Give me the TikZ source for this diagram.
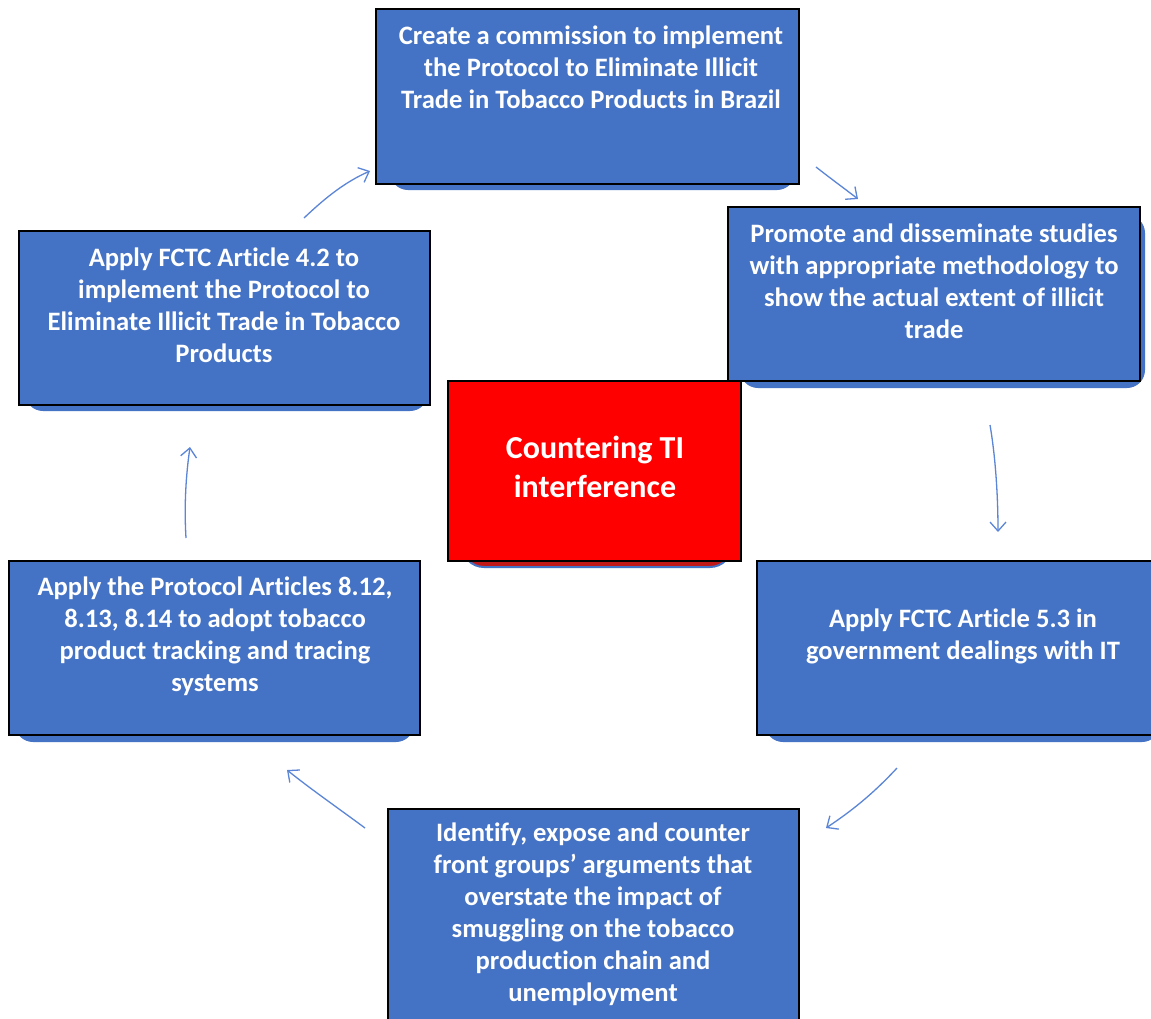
\documentclass[tikz,border=0pt]{standalone}
\usepackage{fontspec}
\setmainfont[Ligatures={NoCommon}]{Carlito}
\usetikzlibrary{arrows.meta}
\definecolor{boxblue}{HTML}{4472C4}
\definecolor{arrowblue}{HTML}{5B85D6}
\definecolor{shadowred}{HTML}{C01818}
\tikzset{
  boxrect/.style={fill=boxblue, draw=black, line width=1.3pt},
  redrect/.style={fill=red, draw=black, line width=1.3pt},
  shadowbox/.style={fill=boxblue, draw=none, rounded corners=18pt},
  shadowredbox/.style={fill=shadowred, draw=boxblue, line width=2pt, rounded corners=22pt},
  boxtext/.style={text=white, font=\bfseries\fontsize{26.6}{32}\selectfont, align=center, inner sep=0pt},
  bigtext/.style={text=white, font=\bfseries\fontsize{32}{39}\selectfont, align=center, inner sep=0pt},
  cyclearrow/.style={draw=arrowblue, line width=1.3pt, -{Straight Barb[length=9pt,width=16pt]}}
}
\begin{document}
\begin{tikzpicture}[x=1pt,y=-1pt]
\useasboundingbox (0,0) rectangle (1151,1018);
\clip (0,0) rectangle (1151,1018);
\fill[white] (0,0) rectangle (1151,1018);

% shadows
\path[shadowbox] (390,20) rectangle (795,190);
\path[shadowbox] (740,215) rectangle (1145,388);
\path[shadowbox] (25,240) rectangle (428,411);
\path[shadowbox] (15,570) rectangle (414,742);
\path[shadowbox] (765,570) rectangle (1160,742);
\path[shadowredbox] (462,390) rectangle (732,567);

% boxes
\draw[boxrect] (376,9) rectangle (799,184);
\draw[boxrect] (728,207) rectangle (1140,381);
\draw[boxrect] (19,231) rectangle (430,405);
\draw[boxrect] (9,561) rectangle (420,735);
\draw[boxrect] (757,561) rectangle (1160,735);
\draw[boxrect] (388,809) rectangle (799,1030);
\draw[redrect] (448,381) rectangle (741,561);

% texts
\node[boxtext] (top) at (591,67) {Create a commission to implement\\the Protocol to Eliminate Illicit\\Trade in Tobacco Products in Brazil};
\node[boxtext] (rtop) at (934,281) {Promote and disseminate studies\\with appropriate methodology to\\show the actual extent of illicit\\trade};
\node[boxtext] (ltop) at (224,305) {Apply FCTC Article 4.2 to\\implement the Protocol to\\Eliminate Illicit Trade in Tobacco\\Products};
\node[boxtext] (lbot) at (215,636) {Apply the Protocol Articles 8.12,\\8.13, 8.14 to adopt tobacco\\product tracking and tracing\\systems};
\node[boxtext] (rbot) at (963,636) {Apply FCTC Article 5.3 in\\government dealings with IT};
\node[boxtext] (bot) at (593,914) {Identify, expose and counter\\front groups’ arguments that\\overstate the impact of\\smuggling on the tobacco\\production chain and\\unemployment};
\node[bigtext] (center) at (595,467) {Countering TI\\interference};

% arrow end coordinates
\coordinate (a1s) at (304,218);
\coordinate (a1e) at (370,171);
\coordinate (a2s) at (816,167);
\coordinate (a2e) at (858,199);
\coordinate (a3s) at (990,425);
\coordinate (a3e) at (998,532);
\coordinate (a4s) at (897,768);
\coordinate (a4e) at (826,828);
\coordinate (a5s) at (365,828);
\coordinate (a5e) at (287,770);
\coordinate (a6s) at (186,538);
\coordinate (a6e) at (190,447);

\draw[cyclearrow] (a1s) .. controls (325,198) and (345,182) .. (a1e);
\draw[cyclearrow] (a2s) .. controls (830,178) and (845,189) .. (a2e);
\draw[cyclearrow] (a3s) .. controls (996,460) and (998,500) .. (a3e);
\draw[cyclearrow] (a4s) .. controls (872,795) and (850,812) .. (a4e);
\draw[cyclearrow] (a5s) .. controls (338,808) and (312,790) .. (a5e);
\draw[cyclearrow] (a6s) .. controls (184,505) and (186,475) .. (a6e);
\end{tikzpicture}
\end{document}
